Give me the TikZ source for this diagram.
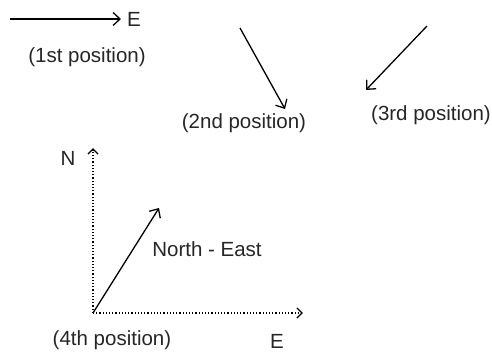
\documentclass[tikz,border=0pt]{standalone}
\usepackage{fontspec}
\setmainfont{Liberation Sans}
\usetikzlibrary{arrows.meta}
\begin{document}
\begin{tikzpicture}[x=1pt,y=-1pt,
  lbl/.style={font=\fontsize{20.5}{24}\selectfont, text=black!85, inner sep=0pt},
  vec/.style={line width=1.3pt, -{Straight Barb[length=7pt,width=13pt,line width=1.3pt]}},
  dvec/.style={line width=1.2pt, dotted, -{Straight Barb[length=5pt,width=10pt,line width=1.2pt,sep]}}]
\useasboundingbox (0,0) rectangle (492,352);
% 1st
\coordinate (a1) at (10,19);
\coordinate (b1) at (121,19);
\draw[vec] (a1) -- (b1);
\node[lbl] (e1) at (134,19) {E};
\node[lbl] (p1) at (87,57) {(1st position)};
% 2nd
\coordinate (a2) at (240,28);
\coordinate (b2) at (285,109);
\draw[vec] (a2) -- (b2);
\node[lbl] (p2) at (244,123) {(2nd position)};
% 3rd
\coordinate (a3) at (427,26);
\coordinate (b3) at (366,90);
\draw[vec] (a3) -- (b3);
\node[lbl] (p3) at (431,115) {(3rd position)};
% 4th
\coordinate (o) at (93,313);
\coordinate (n) at (93,147);
\coordinate (e) at (304,313);
\coordinate (ne) at (159,208);
\draw[dvec] (o) -- (n);
\draw[dvec] (o) -- (e);
\draw[vec] (o) -- (ne);
\node[lbl] (nl) at (68,158) {N};
\node[lbl] (el) at (277,341) {E};
\node[lbl] (nel) at (207,249) {North - East};
\node[lbl] (p4) at (112,340) {(4th position)};
\end{tikzpicture}
\end{document}
